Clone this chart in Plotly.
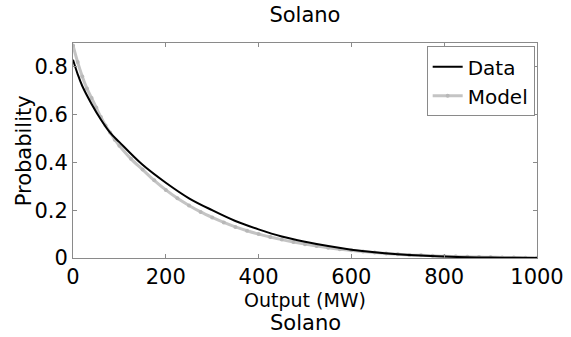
import plotly.graph_objects as go

mw = [0, 10, 20, 40, 60, 80, 100, 150, 200, 250, 300, 350, 400, 450, 500,
      550, 600, 650, 700, 750, 800, 850, 900, 950, 1000]
data_prob = [0.83, 0.77, 0.72, 0.645, 0.58, 0.525, 0.485, 0.39, 0.315, 0.25, 0.2,
             0.155, 0.12, 0.09, 0.068, 0.05, 0.035, 0.024, 0.016, 0.01, 0.006,
             0.003, 0.002, 0.001, 0.0]
model_mw = [0, 10, 20, 30, 40, 50, 60, 70, 80, 90, 100, 125, 150, 175, 200, 225, 250,
            275, 300, 325, 350, 375, 400, 425, 450, 475, 500, 525, 550, 575, 600,
            625, 650, 675, 700, 725, 750, 775, 800, 825, 850, 875, 900, 925, 950,
            975, 1000]
model_prob = [0.89, 0.82, 0.76, 0.71, 0.67, 0.63, 0.59, 0.555, 0.525, 0.495, 0.47,
              0.415, 0.37, 0.325, 0.285, 0.25, 0.22, 0.193, 0.17, 0.149, 0.13,
              0.114, 0.1, 0.088, 0.077, 0.067, 0.058, 0.05, 0.043, 0.037, 0.032,
              0.027, 0.023, 0.019, 0.016, 0.013, 0.011, 0.009, 0.007, 0.006, 0.005,
              0.004, 0.003, 0.0025, 0.002, 0.0015, 0.001]

x_ticks = [0, 200, 400, 600, 800, 1000]
y_ticks = [0, 0.2, 0.4, 0.6, 0.8]
font_family = "DejaVu Sans, Arial, sans-serif"

fig = go.Figure()
fig.add_trace(go.Scatter(x=model_mw, y=model_prob, mode="lines+markers", name="Model",
                         line=dict(color="#c4c4c4", width=3, shape="spline"),
                         marker=dict(color="#b8b8b8", size=4, symbol="circle")))
fig.add_trace(go.Scatter(x=mw, y=data_prob, mode="lines", name="Data",
                         line=dict(color="black", width=2, shape="spline")))

axis_common = dict(showgrid=False, zeroline=False, showline=True, linecolor="#8a8a8a",
                   linewidth=1, mirror="ticks", ticks="inside", ticklen=4,
                   tickcolor="#8a8a8a", tickfont=dict(size=21, color="black"),
                   automargin=False)

fig.update_xaxes(range=[0, 1000], tickvals=x_ticks, ticktext=[str(v) for v in x_ticks],
                 title=dict(text="Output (MW)", font=dict(size=19, color="black"), standoff=0),
                 **axis_common)
fig.update_yaxes(range=[0, 0.9], tickvals=y_ticks, ticktext=["0", "0.2", "0.4", "0.6", "0.8"],
                 **axis_common)

fig.update_layout(
    width=571, height=337,
    margin=dict(l=73, r=34, t=43, b=79),
    paper_bgcolor="white", plot_bgcolor="white",
    font=dict(family=font_family, color="black"),
    title=dict(text="Solano", x=0.534, xanchor="center", y=0.958, yanchor="middle",
               font=dict(size=21, color="black")),
    showlegend=True,
    legend=dict(x=0.995, y=0.985, xanchor="right", yanchor="top",
                bgcolor="white", bordercolor="#8a8a8a", borderwidth=1,
                font=dict(size=20, color="black"), traceorder="reversed",
                itemwidth=30, tracegroupgap=0),
    annotations=[
        dict(text="Solano", xref="paper", yref="paper", x=0.5, y=-0.3,
             xanchor="center", yanchor="middle", showarrow=False,
             font=dict(size=21, color="black")),
        dict(text="Probability", xref="paper", yref="paper", x=-0.106, y=0.5,
             xanchor="center", yanchor="middle", textangle=-90, showarrow=False,
             font=dict(size=21, color="black")),
    ],
)

fig.write_html("out.html")
